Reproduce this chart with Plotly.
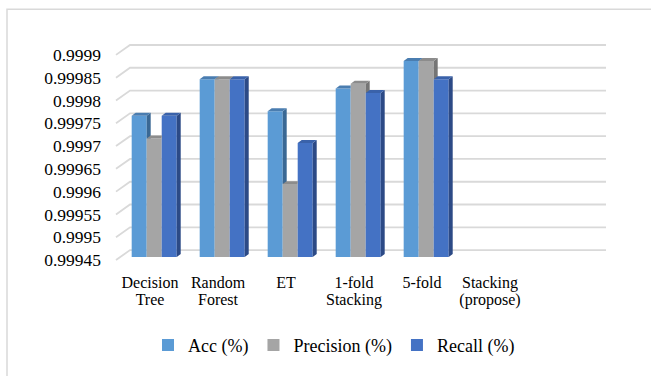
import plotly.graph_objects as go

# ---- data ----
categories = ["Decision Tree", "Random Forest", "ET", "1-fold Stacking",
              "5-fold", "Stacking (propose)"]
# how each category name wraps onto two lines
category_line1 = ["Decision", "Random", "ET", "1-fold", "5-fold", "Stacking"]
category_line2 = ["Tree", "Forest", "", "Stacking", "", "(propose)"]
series_names = ["Acc (%)", "Precision (%)", "Recall (%)"]
acc = [0.99976, 0.99984, 0.99977, 0.99982, 0.99988, None]
precision = [0.99971, 0.99984, 0.99961, 0.99983, 0.99988, None]
recall = [0.99976, 0.99984, 0.99970, 0.99981, 0.99984, None]
y_ticks = [0.99945, 0.9995, 0.99955, 0.9996, 0.99965, 0.9997,
           0.99975, 0.9998, 0.99985, 0.9999]
y_tick_labels = ["0.99945", "0.9995", "0.99955", "0.9996", "0.99965", "0.9997",
                 "0.99975", "0.9998", "0.99985", "0.9999"]

# ---- styling ----
face_colors = ["#5B9BD5", "#A5A5A5", "#4472C4"]
cap_colors = ["#4A7DB0", "#8C8C8C", "#3A62AA"]
side_colors = ["#3A6894", "#757575", "#2C4A86"]
grid_color = "#D9D9D9"
FONT = "'Liberation Serif', 'Times New Roman', Times, serif"

# pseudo-3D geometry (pixel sizes converted to axis units)
STEP = y_ticks[1] - y_ticks[0]
PX_PER_STEP = 23.0
SLOT_PX = 67.96


def ypx(p):
    return p * STEP / PX_PER_STEP


def xpx(p):
    return p / SLOT_PX


BASE = y_ticks[0]
FRONT_DX, FRONT_DY = xpx(14), ypx(10)   # floor front edge vs back wall
BAR_SHIFT_X, BAR_DY = xpx(4.2), ypx(7)  # bar front plane
DEPTH_X, DEPTH_Y = xpx(4), ypx(3)       # bar depth
BAR_W = xpx(15)

fig = go.Figure()

series = [acc, precision, recall]
bar_base = BASE - BAR_DY

# front faces of the columns
for j, (name, vals) in enumerate(zip(series_names, series)):
    fig.add_trace(go.Bar(
        x=[i + BAR_SHIFT_X for i in range(len(categories))],
        y=[None if v is None else v - BASE for v in vals],
        base=bar_base,
        width=BAR_W,
        offset=-1.5 * BAR_W + j * BAR_W,
        name=name,
        marker=dict(color=face_colors[j], line=dict(width=0)),
        hovertext=[f"{categories[i]}: {v}" if v is not None else "" for i, v in enumerate(vals)],
        hoverinfo="text",
    ))


def poly(xs, ys, color):
    # shading faces live on the overlaid x2 axis (same scale), drawn above the fronts
    fig.add_trace(go.Scatter(
        x=xs + [xs[0]], y=ys + [ys[0]], mode="lines", fill="toself",
        fillcolor=color, line=dict(width=0, color=color),
        hoverinfo="skip", showlegend=False, xaxis="x2", yaxis="y",
    ))


# side faces and top caps, drawn back-to-front within each cluster
for i in range(len(categories)):
    for j in range(3):
        v = series[j][i]
        if v is None:
            continue
        t = v - BAR_DY
        x0 = i + BAR_SHIFT_X - 1.5 * BAR_W + j * BAR_W
        x1 = x0 + BAR_W
        nxt = series[j + 1][i] if j < 2 else None
        tn = None if nxt is None else nxt - BAR_DY
        # side face (hidden where the next column's front covers it)
        if tn is None:
            poly([x1, x1, x1 + DEPTH_X, x1 + DEPTH_X],
                 [bar_base, t, t + DEPTH_Y, bar_base + DEPTH_Y], side_colors[j])
        elif tn <= t:
            poly([x1, x1, x1 + DEPTH_X, x1 + DEPTH_X],
                 [tn, t, t + DEPTH_Y, tn], side_colors[j])
        elif tn < t + DEPTH_Y:
            xa = x1 + DEPTH_X * (tn - t) / DEPTH_Y
            poly([xa, x1 + DEPTH_X, x1 + DEPTH_X], [tn, t + DEPTH_Y, tn], side_colors[j])
        # top cap
        if tn is None or tn <= t:
            poly([x0, x1, x1 + DEPTH_X, x0 + DEPTH_X],
                 [t, t, t + DEPTH_Y, t + DEPTH_Y], cap_colors[j])
        elif tn >= t + DEPTH_Y:
            poly([x0, x1, x1, x0 + DEPTH_X],
                 [t, t, t + DEPTH_Y, t + DEPTH_Y], cap_colors[j])
        else:
            xa = x1 + DEPTH_X * (tn - t) / DEPTH_Y
            poly([x0, x1, x1, xa, x1 + DEPTH_X, x0 + DEPTH_X],
                 [t, t, tn, tn, t + DEPTH_Y, t + DEPTH_Y], cap_colors[j])

# gridlines: slanted floor edge, then along the back wall
n_slots = len(categories) + 1
x_front_left = -0.5
x_back_right = n_slots - 0.5 + FRONT_DX
shapes = []
for v in y_ticks:
    shapes.append(dict(
        type="path", xref="x", yref="y", layer="below",
        path=f"M {x_front_left},{v - FRONT_DY} L {x_front_left + FRONT_DX},{v} L {x_back_right},{v}",
        line=dict(color=grid_color, width=1.8),
    ))

# chart frame
L, R, T, B = 114, 608, 43, 264
W, H = R - L, B - T
shapes.append(dict(
    type="rect", xref="paper", yref="paper",
    x0=(7 - L) / W, x1=(700 - L) / W, y0=(B - 420) / H, y1=(B - 9) / H,
    line=dict(color="#D9D9D9", width=1.5), fillcolor="rgba(0,0,0,0)",
))

x_range = [-0.5 - xpx(2), n_slots - 0.5 + xpx(16)]
cat_axis = dict(range=x_range, tickmode="array",
                tickvals=list(range(len(categories))),
                tickfont=dict(size=16, family=FONT, color="#000000"),
                showgrid=False, zeroline=False, showline=False, ticks="",
                fixedrange=True)

fig.update_layout(
    width=651, height=376,
    margin=dict(l=L, r=651 - R, t=T, b=376 - B),
    paper_bgcolor="white", plot_bgcolor="white",
    font=dict(family=FONT, color="#000000"),
    barmode="overlay",
    shapes=shapes,
    showlegend=True,
    legend=dict(orientation="h", x=(334 - L) / W, xanchor="center",
                y=(B - 348) / H, yanchor="middle",
                font=dict(size=18, family=FONT), traceorder="normal"),
    xaxis=dict(cat_axis, ticktext=category_line1, ticklabelstandoff=9),
    xaxis2=dict(cat_axis, ticktext=category_line2, ticklabelstandoff=26,
                overlaying="x", anchor="y", side="bottom"),
    yaxis=dict(range=[BASE - ypx(12), y_ticks[-1] + ypx(2)],
               tickmode="array", tickvals=[v - FRONT_DY for v in y_ticks],
               ticktext=y_tick_labels, tickfont=dict(size=17.5, family=FONT),
               showgrid=False, zeroline=False, showline=False, ticks="",
               ticklabelstandoff=12, fixedrange=True),
)

fig.write_html("out.html")
